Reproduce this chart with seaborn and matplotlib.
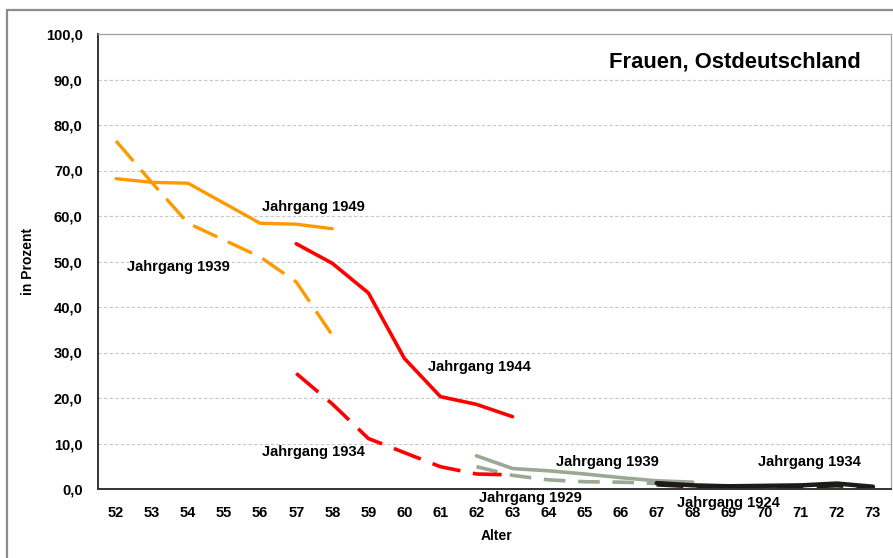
import numpy as np
import pandas as pd
import seaborn as sns
import matplotlib.pyplot as plt
from matplotlib.patches import Rectangle
from matplotlib.ticker import FuncFormatter, MultipleLocator

# Erwerbsbeteiligung Frauen Ostdeutschland nach Alter und Jahrgang
ages_1949 = [52, 53, 54, 55, 56, 57, 58]
vals_1949 = [68.2, 67.4, 67.2, 62.8, 58.4, 58.2, 57.2]

ages_1939a = [52, 53, 54, 55, 56, 57, 58]
vals_1939a = [76.5, 67.3, 58.4, 54.7, 51.0, 45.5, 33.8]

ages_1944 = [57, 58, 59, 60, 61, 62, 63]
vals_1944 = [53.9, 49.6, 43.1, 28.7, 20.3, 18.6, 15.9]

ages_1934a = [57, 58, 59, 60, 61, 62, 63]
vals_1934a = [25.4, 18.7, 11.1, 8.0, 4.9, 3.3, 3.1]

ages_1939b = [62, 63, 64, 65, 66, 67, 68]
vals_1939b = [7.3, 4.5, 4.0, 3.3, 2.5, 1.8, 1.5]

ages_1929 = [62, 63, 64, 65, 66, 67]
vals_1929 = [4.9, 3.0, 2.0, 1.6, 1.5, 1.2]

ages_1934b = [67, 68, 69, 70, 71, 72, 73]
vals_1934b = [1.3, 0.8, 0.6, 0.7, 0.8, 1.2, 0.5]

ages_1924 = [67, 68, 69, 70, 71, 72, 73]
vals_1924 = [1.0, 0.6, 0.4, 0.4, 0.5, 0.8, 0.3]

all_ages = list(range(52, 74))

sns.set_style("white")
plt.rcParams['font.family'] = ['Liberation Sans', 'DejaVu Sans']
plt.rcParams['font.weight'] = 'bold'
plt.rcParams['text.color'] = 'black'
plt.rcParams['xtick.color'] = 'black'
plt.rcParams['ytick.color'] = 'black'

fig = plt.figure(figsize=(8.93, 5.58), dpi=100)
ax = fig.add_axes([98/893, 1-489/558, 793/893, 455/558])

orange = '#FF9900'
red = '#FF0000'
grey = '#9AA894'
black = '#1E1A16'

# grau / schwarz unten zuerst
sns.lineplot(x=ages_1929, y=vals_1929, ax=ax, color=grey, lw=2.6, linestyle=(0, (6, 3.5)))
sns.lineplot(x=ages_1939b, y=vals_1939b, ax=ax, color=grey, lw=2.6)
sns.lineplot(x=ages_1924, y=vals_1924, ax=ax, color=black, lw=3.2, linestyle=(0, (6, 3)))
sns.lineplot(x=ages_1934b, y=vals_1934b, ax=ax, color=black, lw=3.2)

sns.lineplot(x=ages_1939a, y=vals_1939a, ax=ax, color=orange, lw=2.4, linestyle=(0, (8, 3.5)))
sns.lineplot(x=ages_1949, y=vals_1949, ax=ax, color=orange, lw=2.4)
sns.lineplot(x=ages_1934a, y=vals_1934a, ax=ax, color=red, lw=2.6, linestyle=(0, (8, 3.5)))
sns.lineplot(x=ages_1944, y=vals_1944, ax=ax, color=red, lw=2.6)

ax.set_xlim(51.5, 73.5)
ax.set_ylim(0, 100)
ax.set_xticks(all_ages)
ax.set_xticklabels([str(a) for a in all_ages])
ax.xaxis.set_minor_locator(MultipleLocator(1, offset=0.5))
ax.yaxis.set_major_locator(MultipleLocator(10))
ax.yaxis.set_major_formatter(FuncFormatter(lambda v, p: f"{v:.1f}".replace('.', ',')))
ax.tick_params(axis='x', which='major', length=0, pad=12, labelsize=10.5)
ax.tick_params(axis='x', which='minor', length=4, width=1, color='#333333', direction='out')
ax.tick_params(axis='y', length=4, width=1, color='#333333', direction='out', pad=7, labelsize=10.5)
for lab in ax.get_xticklabels() + ax.get_yticklabels():
    lab.set_fontweight('bold')

ax.grid(axis='y', color='#c8c8c8', linestyle=(0, (3, 2)), lw=0.8)
ax.set_axisbelow(True)
for s in ['left', 'bottom']:
    ax.spines[s].set_color('#333333')
    ax.spines[s].set_linewidth(1.4)
for s in ['top', 'right']:
    ax.spines[s].set_color('#a0a0a0')
    ax.spines[s].set_linewidth(0.9)
ax.set_xlabel('')
ax.set_ylabel('')

ax.text(-0.088, 0.5, 'in Prozent', transform=ax.transAxes, rotation=90,
        ha='center', va='center', fontsize=10, fontweight='bold')
ax.text(0.503, -0.103, 'Alter', transform=ax.transAxes,
        ha='center', va='center', fontsize=10, fontweight='bold')
ax.text(72.67, 93.9, 'Frauen, Ostdeutschland', ha='right', va='center',
        fontsize=15.8, fontweight='bold')

labels = [
    (56.05, 62.0, 'Jahrgang 1949'),
    (52.3, 48.8, 'Jahrgang 1939'),
    (60.65, 26.9, 'Jahrgang 1944'),
    (56.05, 8.2, 'Jahrgang 1934'),
    (64.22, 5.9, 'Jahrgang 1939'),
    (62.07, -2.0, 'Jahrgang 1929'),
    (67.56, -3.0, 'Jahrgang 1924'),
    (69.81, 5.9, 'Jahrgang 1934'),
]
for x, y, t in labels:
    ax.text(x, y, t, ha='left', va='center', fontsize=10.6, fontweight='bold', zorder=5)

# Rahmen um das Diagramm
fig.patches.append(Rectangle((7/893, -0.1), 1.2, 1 - 10/558 + 0.1, transform=fig.transFigure,
                             fill=False, edgecolor='#8c8c8c', lw=1.6, clip_on=False))

fig.savefig('out.png', dpi=100)
